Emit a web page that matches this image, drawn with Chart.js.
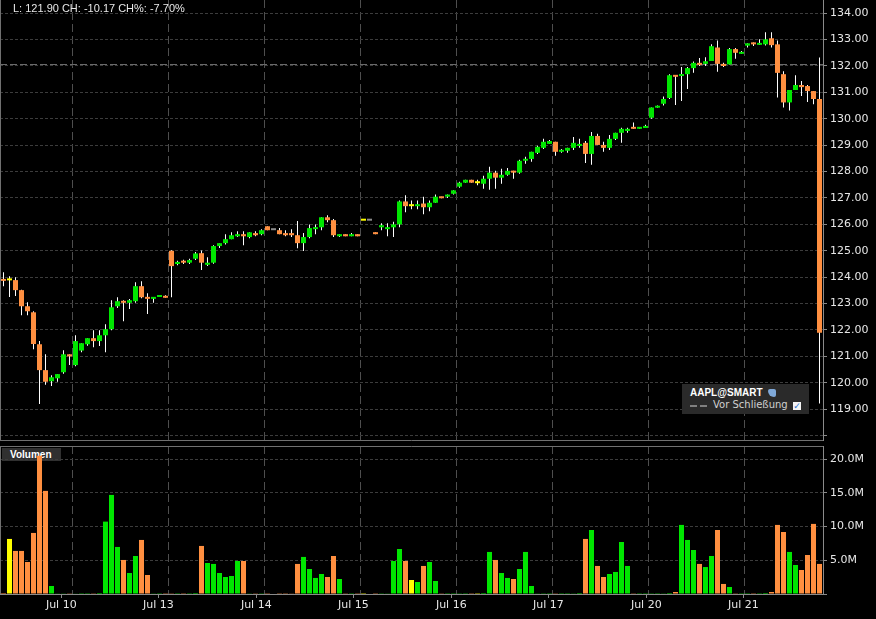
<!DOCTYPE html>
<html>
<head>
<meta charset="utf-8">
<script src="https://cdn.jsdelivr.net/npm/chart.js@4.4.1/dist/chart.umd.min.js"></script>
<style>
  body { margin: 0; background: #000; width: 876px; height: 619px; overflow: hidden; position: relative; }
  canvas { position: absolute; left: 0; }
  #price { top: 0; }
  #volume { top: 442px; }
  #info { position: absolute; left: 13px; top: 2px; color: #e8e8e8; font: 11px 'Liberation Sans', Arial, sans-serif; white-space: pre; }
  #vlab { position: absolute; left: 2px; top: 448px; width: 59px; height: 13px; background: #303030; color: #fff;
          font: bold 10px 'Liberation Sans', Arial, sans-serif; line-height: 13px; text-indent: 8px; }
  #leg { position: absolute; left: 682px; top: 384px; width: 127px; height: 30px; background: #2a2a2a; color: #fff; }
  #leg .t1 { position: absolute; left: 8px; top: 3px; font: bold 10px 'Liberation Sans', Arial, sans-serif; }
  #leg .ico { position: absolute; left: 86px; top: 5px; width: 8px; height: 8px; background: #7fa8d8; border-radius: 2px 2px 2px 6px; }
  #leg .d { position: absolute; top: 21px; width: 7px; height: 2px; background: #808080; }
  #leg .t2 { position: absolute; left: 31px; top: 15px; font: 10px 'DejaVu Sans', sans-serif; color: #d0d0d0; }
  #leg .cb { position: absolute; left: 111px; top: 18px; width: 8px; height: 8px; background: #f4f4f4; color: #2a6fd0;
             font: bold 9px 'DejaVu Sans', sans-serif; line-height: 8px; text-align: center; }
</style>
</head>
<body>
<div id="vlab">Volumen</div>
<canvas id="price" width="876" height="442"></canvas>
<canvas id="volume" width="876" height="177"></canvas>
<div id="info">L: 121.90 CH: -10.17 CH%: -7.70%</div>
<div id="leg">
  <div class="t1">AAPL@SMART</div><div class="ico"></div>
  <div class="d" style="left:8px"></div><div class="d" style="left:18px"></div>
  <div class="t2">Vor Schließung</div><div class="cb">✓</div>
</div>
<script>
// hourly bars, Jul 9 (partial) .. Jul 21
var opens = [
  123.91, 123.88, 123.89, 123.51, 122.90, 122.67, 121.46, 120.48, 120.06,
  120.17, 120.40, 121.08, 120.67, 121.22, 121.46, 121.69,
  121.58, 121.80, 122.03, 122.90, 123.09, 123.03, 123.09, 123.66, 123.24,
  123.18, 123.25, 123.28, 125.00, 124.50, 124.60, 124.55,
  124.70, 124.91, 124.47, 124.55, 125.18, 125.29, 125.44, 125.55, 125.63,
  125.52, 125.67, 125.63, 125.93, 125.78, 125.78, 125.67,
  125.67, 125.59, 125.29, 125.52, 125.82, 125.89, 126.27, 126.16, 125.55,
  125.63, 125.55, 125.63, 126.14, 126.14, 125.70, 125.89,
  125.82, 125.89, 126.00, 126.87, 126.69, 126.69, 126.79, 126.65, 126.82,
  127.05, 127.05, 127.16, 127.43, 127.58, 127.69, 127.56,
  127.54, 127.73, 127.96, 127.77, 127.88, 128.03, 127.96, 128.41, 128.48,
  128.71, 128.90, 129.05, 129.13, 128.75, 128.79, 128.90,
  128.97, 129.09, 128.67, 129.35, 129.01, 128.90, 129.24, 129.47, 129.54,
  129.69, 129.62, 129.65, 130.04, 130.42, 130.57,
  130.79, 131.65, 131.62, 131.69, 131.92, 132.12, 132.08, 132.19, 132.70, 132.08, 132.06,
  132.64, 132.46, 132.77, 132.89, 132.80,
  132.82, 133.05, 132.82, 131.69, 130.62, 131.09, 131.28, 131.24, 131.05, 130.75
];
var highs = [
  124.19, 124.04, 124.00, 123.52, 123.05, 122.71, 121.58, 121.08, 120.29,
  120.33, 121.23, 121.08, 121.80, 121.50, 121.69, 121.99,
  121.99, 122.22, 123.13, 123.24, 123.13, 123.17, 123.81, 123.85, 123.39,
  123.24, 123.32, 123.32, 125.02, 124.62, 124.66, 124.70,
  124.95, 125.01, 124.76, 125.21, 125.29, 125.63, 125.70, 125.74, 125.74,
  125.70, 125.74, 125.82, 125.93, 125.78, 125.86, 125.78,
  125.82, 126.13, 125.67, 126.00, 126.00, 126.27, 126.35, 126.20, 125.63,
  125.63, 125.67, 125.63, 126.14, 126.14, 125.70, 126.04,
  126.04, 126.10, 126.91, 127.10, 126.91, 126.91, 127.05, 126.91, 127.13,
  127.05, 127.13, 127.29, 127.62, 127.69, 127.69, 127.69,
  127.84, 128.18, 128.03, 128.11, 128.14, 128.03, 128.45, 128.56, 128.75,
  128.98, 129.24, 129.20, 129.13, 128.86, 128.90, 129.31,
  129.24, 129.16, 129.50, 129.43, 129.13, 129.39, 129.47, 129.66, 129.66,
  129.86, 129.69, 129.77, 130.43, 130.50, 130.84,
  131.69, 131.65, 131.96, 131.96, 132.17, 132.30, 132.33, 132.82, 132.97, 132.12, 132.68,
  132.68, 132.57, 132.86, 132.89, 133.01,
  133.28, 133.28, 132.97, 131.80, 131.09, 131.65, 131.43, 131.28, 131.05, 132.32
];
var lows = [
  123.66, 123.25, 123.29, 122.56, 122.56, 121.27, 119.20, 119.93, 119.88,
  120.04, 120.34, 120.67, 120.63, 121.16, 121.40, 121.35,
  121.39, 121.16, 121.99, 122.83, 122.33, 122.80, 123.03, 123.20, 122.61,
  123.03, 123.25, 123.22, 123.24, 124.45, 124.50, 124.50,
  124.65, 124.27, 124.42, 124.51, 125.11, 125.24, 125.44, 125.52, 125.21,
  125.48, 125.55, 125.59, 125.78, 125.78, 125.63, 125.55,
  125.52, 125.10, 124.99, 125.48, 125.63, 125.78, 126.08, 125.52, 125.52,
  125.55, 125.55, 125.55, 126.14, 126.14, 125.63, 125.78,
  125.55, 125.52, 125.89, 126.46, 126.57, 126.57, 126.38, 126.50, 126.82,
  126.99, 127.00, 127.13, 127.39, 127.58, 127.58, 127.48,
  127.35, 127.31, 127.35, 127.54, 127.84, 127.73, 127.92, 128.30, 128.37,
  128.67, 128.86, 129.05, 128.60, 128.71, 128.71, 128.82,
  128.90, 128.33, 128.26, 129.01, 128.75, 128.82, 129.20, 129.09, 129.47,
  129.62, 129.62, 129.65, 130.00, 130.42, 130.50,
  130.75, 130.52, 130.67, 131.13, 131.74, 132.00, 132.00, 132.19, 131.78, 131.96, 132.06,
  132.27, 132.46, 132.70, 132.76, 132.80,
  132.78, 132.70, 130.81, 130.43, 130.31, 131.09, 130.86, 130.64, 130.55, 119.22
];
var closes = [
  123.86, 123.88, 123.51, 122.90, 122.71, 121.47, 120.48, 120.04, 120.21,
  120.33, 121.08, 121.00, 121.58, 121.50, 121.69, 121.58,
  121.80, 122.03, 122.86, 123.09, 123.03, 123.13, 123.66, 123.24, 123.18,
  123.24, 123.32, 123.22, 124.42, 124.58, 124.55, 124.65,
  124.90, 124.55, 124.55, 125.18, 125.29, 125.44, 125.59, 125.63, 125.55,
  125.70, 125.59, 125.78, 125.78, 125.78, 125.63, 125.59,
  125.59, 125.29, 125.52, 125.86, 125.89, 126.27, 126.16, 125.59, 125.63,
  125.55, 125.63, 125.55, 126.14, 126.14, 125.63, 125.97,
  125.89, 126.00, 126.87, 126.69, 126.69, 126.76, 126.65, 126.82, 127.05,
  126.99, 127.13, 127.29, 127.58, 127.69, 127.58, 127.56,
  127.73, 127.96, 127.77, 127.88, 128.03, 127.96, 128.41, 128.48, 128.75,
  128.94, 129.13, 129.16, 128.75, 128.82, 128.90, 129.09,
  129.05, 128.67, 129.35, 129.01, 128.90, 129.24, 129.47, 129.62, 129.62,
  129.62, 129.69, 129.73, 130.43, 130.48, 130.75,
  131.65, 131.59, 131.69, 131.92, 132.12, 132.04, 132.18, 132.75, 132.08, 132.00, 132.64,
  132.50, 132.53, 132.86, 132.82, 132.86,
  133.01, 132.79, 131.74, 130.62, 131.09, 131.28, 131.20, 131.05, 130.75, 121.90
];
// volume in millions
var volumes = [
  0.15, 8.17, 6.39, 6.39, 4.75, 9.06, 20.5, 15.3, 1.19,
  0.05, 0.05, 0.04, 0.06, 0.03, 0.03, 0.04,
  0.15, 10.74, 14.7, 6.98, 5.05, 3.12, 5.64, 8.02, 2.82,
  0.05, 0.03, 0.03, 0.04, 0.03, 0.03, 0.03,
  0.15, 7.13, 4.6, 4.46, 3.12, 2.52, 2.67, 4.9, 4.9,
  0.05, 0.04, 0.04, 0.03, 0, 0.03, 0.03,
  0.05, 4.46, 5.5, 3.71, 2.38, 2.97, 2.52, 5.64, 2.23,
  0.04, 0.03, 0.03, 0.02, 0, 0.03, 0.04,
  0.05, 4.9, 6.68, 4.9, 2.08, 1.78, 4.16, 4.75, 1.93,
  0.04, 0.03, 0.03, 0.04, 0.03, 0.03, 0.02,
  0.15, 6.24, 5.05, 3.12, 2.38, 2.23, 3.71, 6.24, 1.19,
  0.05, 0.04, 0.03, 0.04, 0.03, 0.03, 0.05,
  0.15, 8.17, 9.5, 4.16, 2.52, 2.97, 3.27, 7.72, 4.16,
  0.04, 0.03, 0.03, 0.04, 0.03, 0.05,
  0.15, 0.3, 10.25, 8.02, 6.53, 4.46, 4.0, 5.64, 9.5, 1.49, 1.04,
  0.04, 0.03, 0.03, 0.03, 0.03,
  0.15, 0.3, 10.25, 9.2, 6.24, 4.3, 3.56, 5.79, 10.4, 4.46
];
var prevClose = 132.07;
var dayBreaks = [11.5, 27.5, 43.5, 59.5, 75.5, 91.5, 107.5, 123.5];
var tickLabels = ['Jul 10', 'Jul 13', 'Jul 14', 'Jul 15', 'Jul 16', 'Jul 17', 'Jul 20', 'Jul 21'];
var tickSlots = [9.63, 25.8, 42.13, 58.3, 74.63, 90.8, 107.13, 123.3];
var priceTicks = [118, 119, 120, 121, 122, 123, 124, 125, 126, 127, 128, 129, 130, 131, 132, 133, 134];
var volumeTicks = [0, 5, 10, 15, 20];

var GREEN = '#00e600', ORANGE = '#ff8f40', YELLOW = '#ffff00', GREY = '#8c8c8c';
var AXIS = '#8a8a8a', TEXT = '#e6e6e6';
var X_MIN = -0.5833, X_MAX = X_MIN + 823 / 6;

function candleColor(i) {
    if (volumes[i] === 0) return GREY;
    if (closes[i] > opens[i]) return GREEN;
    if (closes[i] < opens[i]) return ORANGE;
    return YELLOW;
}
var colors = opens.map(function(o, i) { return candleColor(i); });

Chart.defaults.font.family = "'DejaVu Sans', sans-serif";
Chart.defaults.font.size = 11;
Chart.defaults.color = TEXT;

// left edge / separator lines of a panel
function framePlugin(edge) {
    return {
        id: 'frame',
        beforeDatasetsDraw: function(chart) {
            var ctx = chart.ctx, a = chart.chartArea;
            ctx.save();
            ctx.strokeStyle = '#707070';
            ctx.lineWidth = 1;
            ctx.beginPath();
            ctx.moveTo(0.5, a.top);
            ctx.lineTo(0.5, a.bottom);
            var y = edge === 'bottom' ? a.bottom + 0.5 : a.top + 0.5;
            ctx.moveTo(0, y);
            ctx.lineTo(a.right, y);
            ctx.stroke();
            if (edge === 'bottom') {
                // previous close line
                var yc = Math.round(chart.scales.y.getPixelForValue(prevClose)) + 0.5;
                ctx.strokeStyle = '#6a6a6a';
                ctx.setLineDash([7, 3]);
                ctx.beginPath();
                ctx.moveTo(a.left, yc);
                ctx.lineTo(a.right, yc);
                ctx.stroke();
            }
            ctx.restore();
        }
    };
}

function fitRightAxis(s) {
    s.width = 53;
    s.paddingTop = 0;
    s.paddingBottom = 0;
}

function xGridAxis() {
    return {
        type: 'linear', position: 'bottom', min: X_MIN, max: X_MAX, offset: false,
        afterBuildTicks: function(s) { s.ticks = dayBreaks.map(function(v) { return { value: v }; }); },
        afterFit: function(s) { s.height = 0; s.paddingLeft = 0; s.paddingRight = 0; },
        ticks: { display: false },
        grid: { color: '#4e4e4e', drawTicks: false, offset: false },
        border: { display: false, dash: [8, 4] }
    };
}

new Chart(document.getElementById('price'), {
    type: 'bar',
    data: {
        datasets: [
            {
                data: opens.map(function(o, i) { return { x: i, y: [o, closes[i]] }; }),
                backgroundColor: colors,
                barThickness: 5,
                minBarLength: 2,
                grouped: false,
                inflateAmount: 0
            },
            {
                data: lows.map(function(l, i) { return { x: i, y: [l, highs[i]] }; }),
                backgroundColor: '#ffffff',
                barThickness: 1,
                grouped: false,
                inflateAmount: 0
            }
        ]
    },
    options: {
        responsive: false,
        animation: false,
        events: [],
        layout: { padding: { left: 0, right: 0, top: 0, bottom: 2 } },
        plugins: { legend: { display: false }, tooltip: { enabled: false } },
        scales: {
            x: xGridAxis(),
            y: {
                type: 'linear', position: 'right', min: 117.8333, max: 134.5,
                afterBuildTicks: function(s) { s.ticks = priceTicks.map(function(v) { return { value: v }; }); },
                afterFit: fitRightAxis,
                ticks: {
                    padding: 3,
                    callback: function(v) { return v >= 119 ? v.toFixed(2) : ''; }
                },
                grid: { color: '#3c3c3c', tickColor: AXIS, tickLength: 4 },
                border: { display: true, color: AXIS, dash: [3, 2] }
            }
        }
    },
    plugins: [framePlugin('bottom')]
});

new Chart(document.getElementById('volume'), {
    type: 'bar',
    data: {
        datasets: [{
            data: volumes.map(function(v, i) { return { x: i, y: v }; }),
            backgroundColor: colors,
            barThickness: 5,
            grouped: false,
            inflateAmount: 0
        }]
    },
    options: {
        responsive: false,
        animation: false,
        events: [],
        layout: { padding: { left: 0, right: 0, top: 4, bottom: 0 } },
        plugins: { legend: { display: false }, tooltip: { enabled: false } },
        scales: {
            x: xGridAxis(),
            xl: {
                type: 'linear', position: 'bottom', min: X_MIN, max: X_MAX, offset: false,
                afterBuildTicks: function(s) { s.ticks = tickSlots.map(function(v) { return { value: v }; }); },
                afterFit: function(s) { s.height = 25; s.paddingLeft = 0; s.paddingRight = 0; },
                ticks: {
                    autoSkip: false, maxRotation: 0, padding: 1,
                    callback: function(v, i) { return tickLabels[i]; }
                },
                grid: { drawOnChartArea: false, color: AXIS, tickLength: 4, offset: false },
                border: { display: true, color: AXIS }
            },
            y: {
                type: 'linear', position: 'right', min: 0, max: 21.96,
                afterBuildTicks: function(s) { s.ticks = volumeTicks.map(function(v) { return { value: v }; }); },
                afterFit: fitRightAxis,
                ticks: {
                    padding: 3,
                    callback: function(v) { return v === 0 ? '' : v.toFixed(1) + 'M'; }
                },
                grid: {
                    color: function(c) { return c.tick && c.tick.value === 0 ? 'rgba(0,0,0,0)' : '#3c3c3c'; },
                    tickColor: AXIS, tickLength: 4
                },
                border: { display: true, color: AXIS, dash: [3, 2] }
            }
        }
    },
    plugins: [framePlugin('top')]
});
</script>
</body>
</html>
